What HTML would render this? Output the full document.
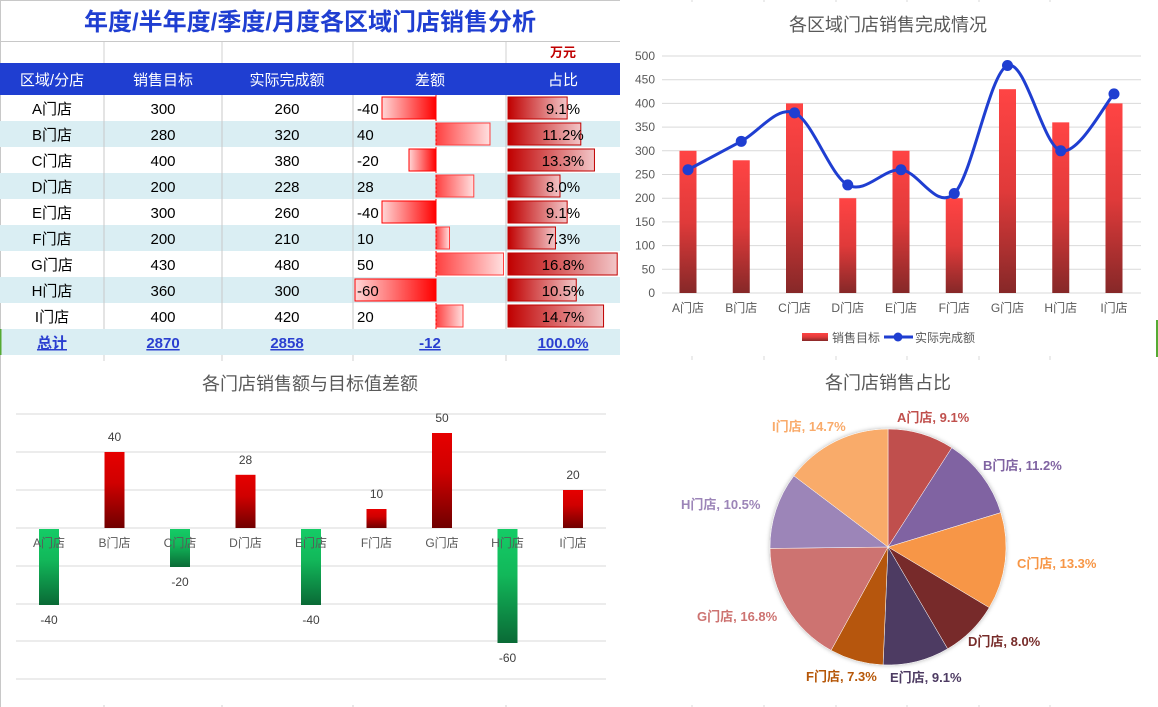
<!DOCTYPE html>
<html><head><meta charset="utf-8">
<style>
html,body{margin:0;padding:0;width:1158px;height:707px;overflow:hidden;background:#fff;font-family:"Liberation Sans","Noto Sans CJK SC",sans-serif;}
svg text{font-family:"Liberation Sans","Noto Sans CJK SC",sans-serif;}
</style></head>
<body>
<svg id="s" width="1158" height="707" viewBox="0 0 1158 707" xmlns="http://www.w3.org/2000/svg">
<defs>
<linearGradient id="negG" x1="0" x2="1" y1="0" y2="0"><stop offset="0" stop-color="#ffd6d6"/><stop offset="1" stop-color="#ff0000"/></linearGradient>
<linearGradient id="posG" x1="0" x2="1" y1="0" y2="0"><stop offset="0" stop-color="#ff4040"/><stop offset="1" stop-color="#ffe0e0"/></linearGradient>
<linearGradient id="pctG" x1="0" x2="1" y1="0" y2="0"><stop offset="0" stop-color="#c00000"/><stop offset="1" stop-color="#f2c6c8"/></linearGradient>
<linearGradient id="barR" x1="0" x2="0" y1="0" y2="1"><stop offset="0" stop-color="#ff4444"/><stop offset="0.5" stop-color="#e03a3a"/><stop offset="1" stop-color="#862828"/></linearGradient>
<linearGradient id="dR" x1="0" x2="0" y1="0" y2="1"><stop offset="0" stop-color="#e60000"/><stop offset="0.4" stop-color="#d00000"/><stop offset="1" stop-color="#700000"/></linearGradient>
<linearGradient id="dG" x1="0" x2="0" y1="0" y2="1"><stop offset="0" stop-color="#14cc66"/><stop offset="0.4" stop-color="#12b85a"/><stop offset="1" stop-color="#0a6a36"/></linearGradient>
<filter id="sh" x="-10%" y="-10%" width="120%" height="120%"><feDropShadow dx="0" dy="0" stdDeviation="2" flood-color="#000" flood-opacity="0.3"/></filter>
</defs>
<g id="root"></g>
</svg>
<script>
var NS="http://www.w3.org/2000/svg",root=document.getElementById('root');
function el(t,a,txt){var e=document.createElementNS(NS,t);for(var k in a)e.setAttribute(k,a[k]);if(txt!=null)e.textContent=txt;root.appendChild(e);return e;}
// spreadsheet grid
var cols=[104,222,353,506];
cols.forEach(function(x){el('line',{x1:x,y1:0,x2:x,y2:707,stroke:'#d0d0d0','stroke-width':1});});
[692,764,836,907,979,1050].forEach(function(x){el('line',{x1:x,y1:0,x2:x,y2:707,stroke:'#d8d8d8','stroke-width':1});});
el('line',{x1:0,y1:0.5,x2:620,y2:0.5,stroke:'#c8c8c8'});
el('line',{x1:0,y1:41.5,x2:620,y2:41.5,stroke:'#c8c8c8'});
el('rect',{x:1,y:1,width:618,height:40,fill:'#fff'});
el('line',{x1:0.5,y1:0,x2:0.5,y2:707,stroke:'#c8c8c8'});
// title
el('text',{x:310,y:30,'text-anchor':'middle','font-size':24,'font-weight':'bold',fill:'#1f3ed1'},'年度/半年度/季度/月度各区域门店销售分析');
el('text',{x:563,y:57,'text-anchor':'middle','font-size':13,'font-weight':'bold',fill:'#c00000'},'万元');
// header
el('rect',{x:0,y:63,width:620,height:32,fill:'#1f3ed1'});
var hd=['区域/分店','销售目标','实际完成额','差额','占比'],cx=[52,163,287,430,563];
hd.forEach(function(h,i){el('text',{x:cx[i],y:85,'text-anchor':'middle','font-size':15,fill:'#fff'},h);});
var names='ABCDEFGHI'.split(''),tgt=[300,280,400,200,300,200,430,360,400],act=[260,320,380,228,260,210,480,300,420],pct=['9.1%','11.2%','13.3%','8.0%','9.1%','7.3%','16.8%','10.5%','14.7%'],pv=[9.1,11.2,13.3,8.0,9.1,7.3,16.8,10.5,14.7];
for(var i=0;i<9;i++){
 var y=95+i*26;
 if(i%2==1)el('rect',{x:0,y:y,width:620,height:26,fill:'#daeef3'});
 cols.forEach(function(x){el('line',{x1:x,y1:y,x2:x,y2:y+26,stroke:'#c8c8c8'});});
 var d=act[i]-tgt[i],w=Math.abs(d)*1.35;
 if(d<0)el('rect',{x:436-w,y:y+2,width:w,height:22,fill:'url(#negG)',stroke:'#ff0000','stroke-width':1});
 else el('rect',{x:436,y:y+2,width:w,height:22,fill:'url(#posG)',stroke:'#ff4040','stroke-width':1});
 el('rect',{x:508,y:y+2,width:pv[i]*6.5,height:22,fill:'url(#pctG)',stroke:'#c00000','stroke-width':1});
 var ty=y+19;
 el('text',{x:52,y:ty,'text-anchor':'middle','font-size':15,fill:'#000'},names[i]+'门店');
 el('text',{x:163,y:ty,'text-anchor':'middle','font-size':15,fill:'#000'},tgt[i]);
 el('text',{x:287,y:ty,'text-anchor':'middle','font-size':15,fill:'#000'},act[i]);
 el('text',{x:357,y:ty,'font-size':15,fill:'#000'},d);
 el('text',{x:563,y:ty,'text-anchor':'middle','font-size':15,fill:'#000'},pct[i]);
}
el('line',{x1:436,y1:95,x2:436,y2:329,stroke:'#ff0000','stroke-dasharray':'2,2'});
// total
el('rect',{x:0,y:329,width:620,height:26,fill:'#daeef3'});
el('line',{x1:0.5,y1:329,x2:0.5,y2:355,stroke:'#55aa33','stroke-width':2});
var tot=['总计','2870','2858','-12','100.0%'];
tot.forEach(function(t,i){el('text',{x:cx[i],y:348,'text-anchor':'middle','font-size':15,'font-weight':'bold',fill:'#2a3fd0','text-decoration':'underline'},t);});
// chart1 box
el('rect',{x:621,y:2,width:535,height:354,fill:'#fff'});
el('text',{x:888,y:31,'text-anchor':'middle','font-size':18,fill:'#595959'},'各区域门店销售完成情况');
for(var v=0;v<=500;v+=50){var yy=293-v*0.474;el('line',{x1:662,y1:yy,x2:1141,y2:yy,stroke:'#d9d9d9'});el('text',{x:655,y:yy+4,'text-anchor':'end','font-size':12,fill:'#595959'},v);}
var pts=[];
for(var i=0;i<9;i++){var x=688+53.25*i,h=tgt[i]*0.474;el('rect',{x:x-8.5,y:293-h,width:17,height:h,fill:'url(#barR)'});
 el('text',{x:x,y:312,'text-anchor':'middle','font-size':12,fill:'#595959'},names[i]+'门店');
 pts.push([x,293-act[i]*0.474]);}
var p='M'+pts[0][0]+','+pts[0][1];
for(var i=0;i<8;i++){var p0=pts[Math.max(i-1,0)],p1=pts[i],p2=pts[i+1],p3=pts[Math.min(i+2,8)],t=6;
 p+=' C'+(p1[0]+(p2[0]-p0[0])/t)+','+(p1[1]+(p2[1]-p0[1])/t)+' '+(p2[0]-(p3[0]-p1[0])/t)+','+(p2[1]-(p3[1]-p1[1])/t)+' '+p2[0]+','+p2[1];}
el('path',{d:p,fill:'none',stroke:'#1f3ed1','stroke-width':3});
pts.forEach(function(q){el('circle',{cx:q[0],cy:q[1],r:5.5,fill:'#1f3ed1'});});
el('rect',{x:802,y:333,width:26,height:8,fill:'url(#barR)'});
el('text',{x:832,y:342,'font-size':12,fill:'#595959'},'销售目标');
el('line',{x1:884,y1:337,x2:913,y2:337,stroke:'#1f3ed1','stroke-width':3});
el('circle',{cx:898,cy:337,r:4.5,fill:'#1f3ed1'});
el('text',{x:915,y:342,'font-size':12,fill:'#595959'},'实际完成额');
// chart3
el('rect',{x:2,y:361,width:616,height:344,fill:'#fff'});
el('text',{x:310,y:390,'text-anchor':'middle','font-size':18,fill:'#595959'},'各门店销售额与目标值差额');
[414,452,490,528,566,604,641,679].forEach(function(yy){el('line',{x1:16,y1:yy,x2:606,y2:yy,stroke:'#d9d9d9'});});
for(var i=0;i<9;i++){var x=49+65.5*i,d=act[i]-tgt[i],h=Math.abs(d)*1.9;
 if(d>0){el('rect',{x:x-10,y:528-h,width:20,height:h,fill:'url(#dR)'});el('text',{x:x,y:528-h-11,'text-anchor':'middle','font-size':12,fill:'#404040'},d);}
 else{el('rect',{x:x-10,y:529,width:20,height:h,fill:'url(#dG)'});el('text',{x:x,y:529+h+19,'text-anchor':'middle','font-size':12,fill:'#404040'},d);}
 el('text',{x:x,y:547,'text-anchor':'middle','font-size':12,fill:'#595959'},names[i]+'门店');}
// pie
el('rect',{x:622,y:360,width:534,height:345,fill:'#fff'});
el('text',{x:888,y:389,'text-anchor':'middle','font-size':18,fill:'#595959'},'各门店销售占比');
var colors=['#c0504d','#8064a2','#f79646','#772c2a','#4d3b62','#b65708','#cd7371','#9c85b8','#f9ab6b'];
var total=act.reduce(function(a,b){return a+b;},0),a0=-Math.PI/2,CX=888,CY=547,R=118;
var g=document.createElementNS(NS,'g');g.setAttribute('filter','url(#sh)');root.appendChild(g);
for(var i=0;i<9;i++){var a1=a0+act[i]/total*2*Math.PI;
 var x0=CX+R*Math.cos(a0),y0=CY+R*Math.sin(a0),x1=CX+R*Math.cos(a1),y1=CY+R*Math.sin(a1);
 var e=document.createElementNS(NS,'path');e.setAttribute('d','M'+CX+','+CY+' L'+x0+','+y0+' A'+R+','+R+' 0 '+((a1-a0)>Math.PI?1:0)+' 1 '+x1+','+y1+' Z');
 e.setAttribute('fill',colors[i]);e.setAttribute('stroke','#fff');e.setAttribute('stroke-width','0.5');g.appendChild(e);a0=a1;}
var lp=[[897,422],[983,470],[1017,568],[968,646],[890,682],[806,681],[697,621],[681,509],[772,431]];
for(var i=0;i<9;i++)el('text',{x:lp[i][0],y:lp[i][1],'font-size':13,'font-weight':'bold',fill:colors[i]},names[i]+'门店, '+pct[i]);
el('line',{x1:1157,y1:320,x2:1157,y2:357,stroke:'#55aa33','stroke-width':2});
</script>
</body></html>
